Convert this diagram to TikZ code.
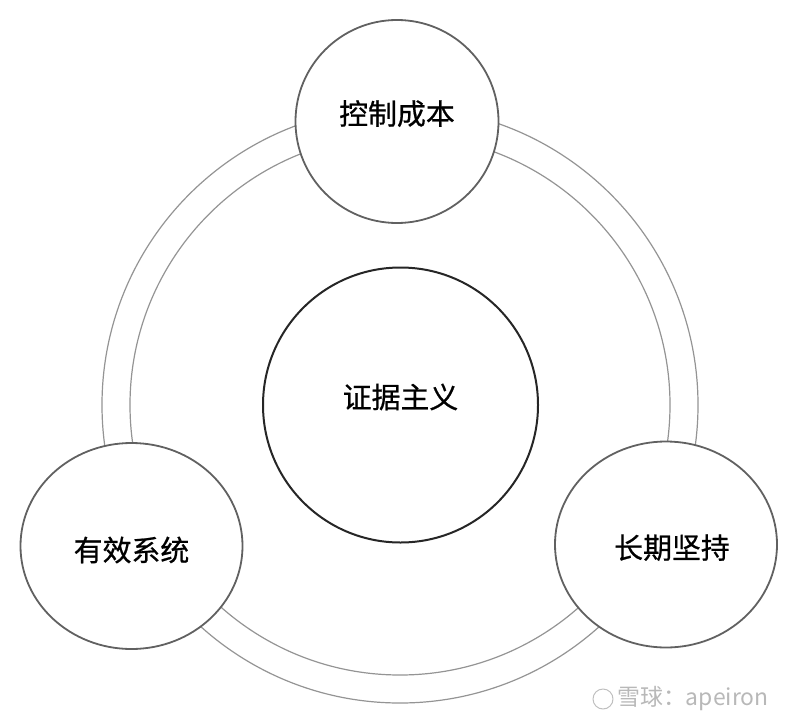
\documentclass[tikz,border=0pt]{standalone}
\usepackage{fontspec}
\newfontfamily\cjk[FakeBold=0.7]{Noto Sans CJK SC}
\newfontfamily\cjkwm{Noto Sans CJK SC}
\usetikzlibrary{shapes.geometric}
\begin{document}
\begin{tikzpicture}[x=1bp,y=-1bp,line join=round,font=\cjk\fontsize{29}{34}\selectfont,
	ball/.style={circle,draw=black!62,line width=1.8bp,fill=white,inner sep=0pt,minimum size=#1},
	egg/.style={ellipse,draw=black!62,line width=1.8bp,fill=white,inner sep=0pt,minimum width=222bp,minimum height=206bp},
	up/.style={text height=25.5bp,text depth=3.5bp+#1}]
		\def\cx{400}\def\cy{405}
		\useasboundingbox (0,0) rectangle (800,726);
		\foreach \r in {270,298}{
			\draw[black!42,line width=1.2bp] (\cx,\cy) circle[radius=\r bp];};
		\node[ball=275bp,draw=black!85,line width=2bp,up=16bp] (zj) at (400.5,405) {证据主义};
		\node[ball=203bp,up=16bp] (kz) at (397,121.5) {控制成本};
		\node[egg,text height=33.5bp,text depth=3.5bp] (yx) at (131.5,546) {有效系统\hspace{12bp}};
		\node[egg,text height=31.5bp,text depth=3.5bp] (cq) at (666,544.5) {\hspace{12bp}长期坚持};
		\node[circle,draw=black!25,line width=1bp,minimum size=20bp,inner sep=0pt] (logo) at (603,699) {};
		\node[anchor=west,text=black!28,font=\cjkwm\fontsize{23}{27}\selectfont,inner sep=0pt] (wm) at (617,699) {雪球：apeiron};
		\end{tikzpicture}
\end{document}
